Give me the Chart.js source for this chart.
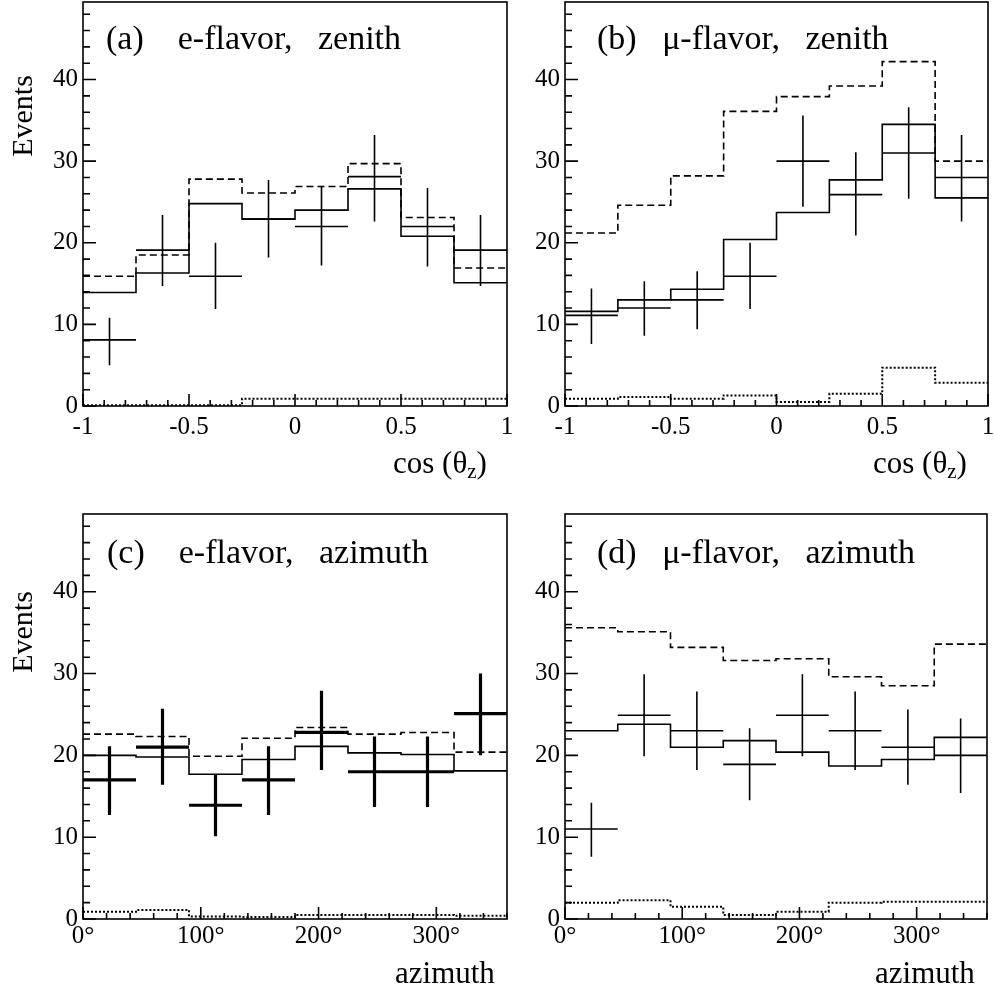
<!DOCTYPE html>
<html>
<head>
<meta charset="utf-8">
<script src="https://cdn.jsdelivr.net/npm/chart.js@4.4.1/dist/chart.umd.min.js"></script>
<style>
  html, body { margin: 0; padding: 0; background: #fff; }
  #page { position: relative; width: 995px; height: 990px; overflow: hidden; font-family: "Liberation Serif", "Times New Roman", serif; color: #000; }
  canvas { position: absolute; }
  .txt { position: absolute; white-space: pre; line-height: 1; }
  .panel-title { font-size: 34px; }
  .axis-title { font-size: 31px; }
  .axis-title sub { font-size: 0.68em; vertical-align: -0.22em; line-height: 0; }
  .ylab { font-size: 30px; width: 120px; height: 34px; line-height: 34px; text-align: center; transform: rotate(-90deg); }
</style>
</head>
<body>
<div id="page">
  <canvas id="pa" width="515" height="485" style="left:0;top:0"></canvas>
  <canvas id="pb" width="480" height="485" style="left:515px;top:0"></canvas>
  <canvas id="pc" width="515" height="505" style="left:0;top:485px"></canvas>
  <canvas id="pd" width="480" height="505" style="left:515px;top:485px"></canvas>

  <div class="txt panel-title" style="left:106px;top:21px">(a)    e-flavor,   zenith</div>
  <div class="txt panel-title" style="left:597px;top:21px">(b)   μ-flavor,   zenith</div>
  <div class="txt panel-title" style="left:107px;top:535px">(c)    e-flavor,   azimuth</div>
  <div class="txt panel-title" style="left:597px;top:535px">(d)   μ-flavor,   azimuth</div>

  <div class="txt axis-title" style="left:393px;top:447px">cos (θ<sub>z</sub>)</div>
  <div class="txt axis-title" style="left:873px;top:447px">cos (θ<sub>z</sub>)</div>
  <div class="txt axis-title" style="left:395px;top:957px">azimuth</div>
  <div class="txt axis-title" style="left:875px;top:957px">azimuth</div>

  <div class="txt ylab" style="left:-38px;top:99px">Events</div>
  <div class="txt ylab" style="left:-38px;top:615px">Events</div>
</div>
<script>
// bin edges and tick labels
const ZENITH_EDGES = [-1, -0.75, -0.5, -0.25, 0, 0.25, 0.5, 0.75, 1];
const AZIMUTH_EDGES = [0, 45, 90, 135, 180, 225, 270, 315, 360];
const ZENITH_TICKS = [-1, -0.5, 0, 0.5, 1];
const ZENITH_LABELS = ["-1", "-0.5", "0", "0.5", "1"];
const AZIMUTH_TICKS = [0, 100, 200, 300];
const AZIMUTH_LABELS = ["0°", "100°", "200°", "300°"];
const Y_TICKS = [0, 10, 20, 30, 40];
const Y_MAX = 49.5;

// (a) e-flavor, zenith
const A_DATA = [8.1, 19.1, 15.9, 22.9, 22.0, 28.1, 22.0, 19.1];
const A_HI = [10.8, 23.4, 20.0, 27.7, 26.9, 33.2, 26.7, 23.4];
const A_LO = [5.0, 14.7, 11.9, 18.2, 17.2, 22.6, 17.1, 14.7];
const A_OSC = [13.9, 16.3, 24.8, 22.9, 24.0, 26.6, 20.8, 15.1];
const A_NOOSC = [15.9, 18.5, 27.8, 26.1, 26.9, 29.7, 23.1, 16.9];
const A_BKG = [0.1, 0.1, 0.1, 0.9, 0.9, 0.9, 0.9, 0.9];

// (b) mu-flavor, zenith
const B_DATA = [11.1, 12.0, 13.0, 15.9, 30.0, 25.9, 31.0, 28.0];
const B_HI = [14.4, 15.3, 16.5, 20.0, 35.6, 31.1, 36.6, 33.2];
const B_LO = [7.6, 8.6, 9.4, 11.9, 24.4, 20.9, 25.4, 22.6];
const B_OSC = [11.6, 13.0, 14.3, 20.4, 23.7, 27.7, 34.5, 25.5];
const B_NOOSC = [21.2, 24.6, 28.2, 36.1, 37.9, 39.2, 42.2, 30.0];
const B_BKG = [0.9, 1.1, 0.9, 1.3, 0.5, 1.5, 4.7, 2.85];

// (c) e-flavor, azimuth
const C_DATA = [17.0, 21.0, 13.9, 17.0, 22.8, 18.0, 18.0, 25.1];
const C_HI = [21.1, 25.7, 17.7, 21.1, 27.9, 22.3, 22.3, 30.0];
const C_LO = [12.7, 16.4, 10.1, 12.7, 18.2, 13.7, 13.7, 20.0];
const C_OSC = [20.0, 19.8, 17.7, 19.5, 21.1, 20.3, 20.1, 18.1];
const C_NOOSC = [22.6, 22.3, 19.9, 22.1, 23.4, 22.6, 22.8, 20.4];
const C_BKG = [0.9, 1.1, 0.3, 0.25, 0.5, 0.5, 0.5, 0.4];

// (d) mu-flavor, azimuth
const D_DATA = [11.0, 24.9, 23.0, 18.9, 24.9, 23.0, 21.0, 20.0];
const D_HI = [14.2, 29.9, 27.8, 23.3, 29.9, 27.8, 25.6, 24.5];
const D_LO = [7.6, 19.9, 18.2, 14.5, 19.9, 18.2, 16.4, 15.4];
const D_OSC = [23.0, 23.8, 21.0, 21.8, 20.4, 18.7, 19.5, 22.2];
const D_NOOSC = [35.6, 35.1, 33.2, 31.6, 31.8, 29.6, 28.5, 33.6];
const D_BKG = [2.0, 2.3, 1.5, 0.5, 0.9, 2.0, 2.1, 2.1];

const FONT = "'Liberation Serif', 'Times New Roman', serif";

function steps(edges, vals) {
  const pts = [];
  vals.forEach((v, i) => { pts.push({ x: edges[i], y: v }, { x: edges[i + 1], y: v }); });
  return pts;
}

function crosses(edges, vals, lo, hi) {
  const pts = [];
  vals.forEach((v, i) => {
    const c = (edges[i] + edges[i + 1]) / 2;
    pts.push({ x: edges[i], y: v }, { x: edges[i + 1], y: v }, { x: c, y: null },
             { x: c, y: lo[i] }, { x: c, y: hi[i] }, { x: c, y: null });
  });
  return pts;
}

// box around the plot and inward tick marks
const frameTicks = {
  id: "frameTicks",
  afterDatasetsDraw(chart, args, opts) {
    const { ctx, chartArea: a, scales: { x, y } } = chart;
    ctx.save();
    ctx.strokeStyle = "#000";
    ctx.lineWidth = 1.6;
    ctx.beginPath();
    const ny = Math.floor(y.max / opts.yMinor + 1e-6);
    for (let i = 0; i <= ny; i++) {
      const v = i * opts.yMinor;
      const py = y.getPixelForValue(v);
      const len = Math.abs(v % opts.yMajor) < 1e-6 ? 13 : 7;
      ctx.moveTo(a.left, py); ctx.lineTo(a.left + len, py);
    }
    const nx = Math.round((x.max - x.min) / opts.xMinor);
    for (let i = 0; i <= nx; i++) {
      const v = x.min + i * opts.xMinor;
      const px = x.getPixelForValue(v);
      const r = Math.abs((v - opts.xBase) / opts.xMajor);
      const len = Math.abs(r - Math.round(r)) < 1e-6 ? 12 : 6;
      ctx.moveTo(px, a.bottom); ctx.lineTo(px, a.bottom - len);
    }
    ctx.stroke();
    ctx.strokeRect(a.left, a.top, a.right - a.left, a.bottom - a.top);
    ctx.restore();
  }
};

function makePanel(id, p) {
  const line = (data, extra) => Object.assign({
    data, borderColor: "#000", borderWidth: 1.6, pointRadius: 0, fill: false, tension: 0, spanGaps: false
  }, extra);
  new Chart(document.getElementById(id), {
    type: "line",
    data: {
      datasets: [
        line(steps(p.edges, p.noosc), { borderDash: [7, 4] }),
        line(steps(p.edges, p.osc), {}),
        line(steps(p.edges, p.bkg), { borderDash: [2, 2], borderWidth: 2 }),
        line(crosses(p.edges, p.data, p.lo, p.hi), { borderWidth: p.crossWidth }),
      ],
    },
    options: {
      responsive: false,
      animation: false,
      events: [],
      layout: { padding: { top: p.padTop, right: p.padRight, left: 0, bottom: 0 } },
      plugins: {
        legend: { display: false },
        tooltip: { enabled: false },
        frameTicks: { yMinor: 2, yMajor: 10, xMinor: p.xMinor, xMajor: p.xMajor, xBase: p.ticks[0] },
      },
      scales: {
        x: {
          type: "linear", min: p.edges[0], max: p.edges[p.edges.length - 1],
          grid: { display: false, drawTicks: false }, border: { display: false },
          ticks: { color: "#000", font: { family: FONT, size: 25 }, padding: p.xPad, maxRotation: 0, autoSkip: false,
                   callback: (v) => p.labels[p.ticks.indexOf(v)] },
          afterBuildTicks: (s) => { s.ticks = p.ticks.map((v) => ({ value: v })); },
          afterFit: (s) => { s.height = p.xHeight; s.paddingLeft = 0; s.paddingRight = 0; },
        },
        y: {
          type: "linear", min: 0, max: Y_MAX,
          grid: { display: false, drawTicks: false }, border: { display: false },
          ticks: { color: "#000", font: { family: FONT, size: 25 }, padding: 5, autoSkip: false },
          afterBuildTicks: (s) => { s.ticks = Y_TICKS.map((v) => ({ value: v })); },
          afterFit: (s) => { s.width = p.yWidth; s.paddingTop = 0; s.paddingBottom = 0; },
        },
      },
    },
    plugins: [frameTicks],
  });
}

const zen = { edges: ZENITH_EDGES, ticks: ZENITH_TICKS, labels: ZENITH_LABELS, xMinor: 0.1, xMajor: 0.5, xPad: 6, xHeight: 79, padTop: 2 };
const azi = { edges: AZIMUTH_EDGES, ticks: AZIMUTH_TICKS, labels: AZIMUTH_LABELS, xMinor: 20, xMajor: 100, xPad: 2, xHeight: 71, padTop: 29 };

makePanel("pa", Object.assign({}, zen, { data: A_DATA, lo: A_LO, hi: A_HI, osc: A_OSC, noosc: A_NOOSC, bkg: A_BKG, yWidth: 83, padRight: 8, crossWidth: 1.6 }));
makePanel("pb", Object.assign({}, zen, { data: B_DATA, lo: B_LO, hi: B_HI, osc: B_OSC, noosc: B_NOOSC, bkg: B_BKG, yWidth: 50, padRight: 7, crossWidth: 1.6 }));
makePanel("pc", Object.assign({}, azi, { data: C_DATA, lo: C_LO, hi: C_HI, osc: C_OSC, noosc: C_NOOSC, bkg: C_BKG, yWidth: 83, padRight: 8, crossWidth: 3.2 }));
makePanel("pd", Object.assign({}, azi, { data: D_DATA, lo: D_LO, hi: D_HI, osc: D_OSC, noosc: D_NOOSC, bkg: D_BKG, yWidth: 50, padRight: 8, crossWidth: 1.6 }));
</script>
</body>
</html>
